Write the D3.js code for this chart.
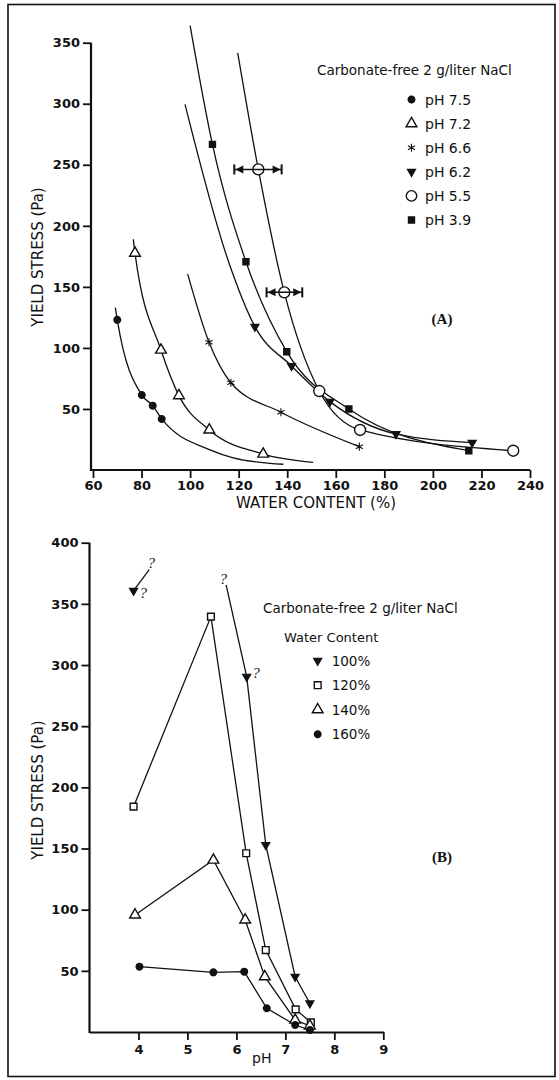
<!DOCTYPE html>
<html>
<head>
<meta charset="utf-8">
<script src="https://cdn.jsdelivr.net/npm/d3@7"></script>
<style>
body { margin: 0; background: #fff; }
text { font-family: "DejaVu Sans", sans-serif; fill: #111; }
.axis path, .axis line { stroke: #111; }
.axis path { stroke-width: 2.2; }
.axis line { stroke-width: 1.8; }
.axis text { font-size: 13px; font-weight: bold; }
.curve { fill: none; stroke: #111; stroke-width: 1.3; }
</style>
</head>
<body>
<svg id="chart" width="559" height="1080"></svg>
<script>
// ---------- panel A : yield stress vs water content ----------
let phLabels = ["pH 7.5", "pH 7.2", "pH 6.6", "pH 6.2", "pH 5.5", "pH 3.9"];
let phSymbols = ["dot", "tri", "star", "tridown", "ring", "sq"];

// measured points [water content %, yield stress Pa]
let pts75 = [[70.0, 123], [80.1, 61.4], [84.6, 52.7], [88.3, 41.8]];
let pts72 = [[77.3, 177.6], [88.0, 98.3], [95.4, 60.9], [107.9, 32.8], [130.1, 13.1]];
let pts66 = [[107.8, 104.6], [116.8, 71.5], [137.4, 47.3], [169.7, 19.1]];
let pts62 = [[126.7, 117.4], [141.8, 85.2], [157.6, 56], [184.8, 29.5], [216.2, 22.4]];
let pts55 = [[128.1, 246.2], [138.8, 145.5], [153.2, 64.7], [170.0, 32.8], [233.1, 15.8]];
let pts39 = [[109.2, 266.7], [123.0, 170.6], [139.8, 96.9], [165.4, 50], [214.8, 15.8]];

// extra points (ends and bends)
let fit75 = [[69.2, 133], [108.2, 16.5], [117.8, 10], [138.4, 4.7]];
let fit72 = [[76.6, 189], [150.7, 6.3]];
let fit66 = [[99.0, 160.5]];
let fit62 = [[97.9, 299.5], [115.6, 172]];
let fit55 = [[119.6, 341.7]];
let fit39 = [[100.0, 364]];

// horizontal error bars [x, y, low, high]
let errA = [[128.1, 246.2, 118.2, 137.7], [138.8, 145.5, 131.5, 146.2]];

let xTicksA = [60, 80, 100, 120, 140, 160, 180, 200, 220, 240];
let yTicksA = [50, 100, 150, 200, 250, 300, 350];

// ---------- panel B : yield stress vs pH ----------
let wcLabels = ["100%", "120%", "140%", "160%"];
let wcSymbols = ["tridown", "box", "tri", "dot"];

// [pH, yield stress Pa]
let wc100 = [[6.21, 290.5], [6.6, 152.9], [7.2, 45.2], [7.5, 23.5]];
let wc100Lead = [[5.79, 365.5]];
let wc100Low = [[3.9, 360.8]];
let wc100LowTail = [[4.22, 378]];
let wc120 = [[3.9, 184.2], [5.48, 339.6], [6.2, 146.1], [6.6, 67], [7.21, 18.5], [7.52, 7.9]];
let wc140 = [[3.93, 95.7], [5.53, 140.6], [6.18, 91.6], [6.58, 45.2], [7.2, 9.8], [7.5, 5]];
let wc160 = [[4.02, 53.4], [5.53, 48.8], [6.16, 49.3], [6.62, 19.4], [7.2, 5.7], [7.5, 1.6]];

// question marks on uncertain 100% values
let qMarks = [[4.26, 383.7], [4.1, 359.2], [5.73, 370.6], [6.4, 293.8]];

let xTicksB = [4, 5, 6, 7, 8, 9];
let yTicksB = [50, 100, 150, 200, 250, 300, 350, 400];

let svg = d3.select("#chart");

svg
	.append("rect")
	.attr("x", 8)
	.attr("y", 4.5)
	.attr("width", 547)
	.attr("height", 1072)
	.attr("fill", "none")
	.attr("stroke", "#111")
	.attr("stroke-width", 1.6);

function mark(g, type, cx, cy, s) {
	s = s || 1;
	if (type === "ring") {
		return g
			.append("circle")
			.attr("cx", cx)
			.attr("cy", cy)
			.attr("r", 5.5 * s)
			.attr("fill", "#fff")
			.attr("stroke", "#111")
			.attr("stroke-width", 1.4);
	}
	let shapes = {
		dot: [d3.symbolCircle, 34, "#111"],
		tri: [d3.symbolTriangle, 50, "#fff"],
		tridown: [d3.symbolTriangle, 26, "#111"],
		sq: [d3.symbolSquare, 36, "#111"],
		box: [d3.symbolSquare, 46, "#fff"],
		star: [d3.symbolAsterisk, 46, "none"],
	};
	let sh = shapes[type];
	return g
		.append("path")
		.attr("d", d3.symbol().type(sh[0]).size(sh[1] * s * s)())
		.attr(
			"transform",
			"translate(" + cx + "," + cy + ")" + (type === "tridown" ? " rotate(180)" : "")
		)
		.attr("fill", sh[2])
		.attr("stroke", "#111")
		.attr("stroke-width", type === "star" ? 1.1 : 1.4);
}

// ================= panel A =================
let xA = d3.scaleLinear().domain([60, 240]).range([93, 530]);
let yA = d3.scaleLinear().domain([0, 350]).range([470, 42.7]);
let gA = svg.append("g");

gA.append("g")
	.attr("class", "axis")
	.attr("transform", "translate(0,470)")
	.call(d3.axisBottom(xA).tickValues(xTicksA).tickSize(8).tickPadding(3).tickSizeOuter(0))
	.select(".domain")
	.attr("d", "M90,0H530");

gA.append("g")
	.attr("class", "axis")
	.attr("transform", "translate(91,0)")
	.call(d3.axisLeft(yA).tickValues(yTicksA).tickSize(8).tickPadding(3).tickSizeOuter(0))
	.select(".domain")
	.attr("d", "M0,471V42.7");

gA.append("text")
	.attr("transform", "translate(43,257) rotate(-90)")
	.attr("text-anchor", "middle")
	.style("font-size", "15px")
	.text("YIELD STRESS (Pa)");

gA.append("text")
	.attr("x", 316)
	.attr("y", 508)
	.attr("text-anchor", "middle")
	.style("font-size", "15px")
	.text("WATER CONTENT (%)");

let seriesA = [
	{ pts: pts75, fit: fit75 },
	{ pts: pts72, fit: fit72 },
	{ pts: pts66, fit: fit66 },
	{ pts: pts62, fit: fit62 },
	{ pts: pts55, fit: fit55 },
	{ pts: pts39, fit: fit39 },
];

let lineA = d3
	.line()
	.x((d) => xA(d[0]))
	.y((d) => yA(d[1]))
	.curve(d3.curveMonotoneX);

seriesA.forEach((s) => {
	let all = s.pts.concat(s.fit).sort((a, b) => a[0] - b[0]);
	gA.append("path").attr("class", "curve").attr("d", lineA(all));
});

seriesA.forEach((s, i) => {
	s.pts.forEach((p) => mark(gA, phSymbols[i], xA(p[0]), yA(p[1])));
});

// error bars with arrow heads
errA.forEach((e) => {
	let cy = yA(e[1]),
		lo = xA(e[2]),
		hi = xA(e[3]);
	gA.append("line")
		.attr("x1", lo)
		.attr("x2", hi)
		.attr("y1", cy)
		.attr("y2", cy)
		.attr("stroke", "#111")
		.attr("stroke-width", 1.5);
	[lo, hi].forEach((xe, k) => {
		let dir = k === 0 ? 1 : -1;
		gA.append("line")
			.attr("x1", xe)
			.attr("x2", xe)
			.attr("y1", cy - 5)
			.attr("y2", cy + 5)
			.attr("stroke", "#111")
			.attr("stroke-width", 2);
		gA.append("path")
			.attr(
				"d",
				"M" + (xe + dir) + "," + cy + "L" + (xe + dir * 9) + "," + (cy - 4) + "L" + (xe + dir * 9) + "," + (cy + 4) + "Z"
			)
			.attr("fill", "#111");
	});
});

// legend A
gA.append("text")
	.attr("x", 317)
	.attr("y", 75)
	.style("font-size", "13.5px")
	.text("Carbonate-free 2 g/liter NaCl");

phLabels.forEach((lab, i) => {
	let cy = 99.5 + i * 24.1;
	mark(gA, phSymbols[i], 411.5, cy, phSymbols[i] === "ring" ? 0.95 : 1);
	gA.append("text")
		.attr("x", 425)
		.attr("y", cy + 5)
		.style("font-size", "14px")
		.text(lab);
});

gA.append("text")
	.attr("x", 442)
	.attr("y", 324)
	.attr("text-anchor", "middle")
	.style("font-family", "'Liberation Serif', serif")
	.style("font-weight", "bold")
	.style("font-size", "15px")
	.text("(A)");

// ================= panel B =================
let xB = d3.scaleLinear().domain([3, 9]).range([89.5, 383.3]);
let yB = d3.scaleLinear().domain([0, 400]).range([1032, 542.7]);
let gB = svg.append("g");

gB.append("g")
	.attr("class", "axis")
	.attr("transform", "translate(0,1032)")
	.call(
		d3
			.axisBottom(xB)
			.tickValues(xTicksB)
			.tickFormat(d3.format("d"))
			.tickSize(8)
			.tickPadding(5)
			.tickSizeOuter(0)
	);

gB.append("g")
	.attr("class", "axis")
	.attr("transform", "translate(89.5,0)")
	.call(d3.axisLeft(yB).tickValues(yTicksB).tickSize(8).tickPadding(3).tickSizeOuter(0))
	.select(".domain")
	.attr("d", "M0,1033V542.7");

gB.append("text")
	.attr("transform", "translate(43,790) rotate(-90)")
	.attr("text-anchor", "middle")
	.style("font-size", "15px")
	.text("YIELD STRESS (Pa)");

gB.append("text")
	.attr("x", 252)
	.attr("y", 1063)
	.style("font-size", "14px")
	.text("pH");

let lineB = d3
	.line()
	.x((d) => xB(d[0]))
	.y((d) => yB(d[1]));

[wc100Lead.concat(wc100), wc100Low.concat(wc100LowTail), wc120, wc140, wc160].forEach((s) => {
	gB.append("path").attr("class", "curve").attr("d", lineB(s));
});

let seriesB = [wc100.concat(wc100Low), wc120, wc140, wc160];
seriesB.forEach((s, i) => {
	s.forEach((p) => mark(gB, wcSymbols[i], xB(p[0]), yB(p[1])));
});

qMarks.forEach((q) => {
	gB.append("text")
		.attr("x", xB(q[0]))
		.attr("y", yB(q[1]) + 5)
		.attr("text-anchor", "middle")
		.style("font-family", "'Liberation Serif', serif")
		.style("font-style", "italic")
		.style("font-size", "15px")
		.text("?");
});

// legend B
gB.append("text")
	.attr("x", 263)
	.attr("y", 613)
	.style("font-size", "13.5px")
	.text("Carbonate-free 2 g/liter NaCl");

gB.append("text")
	.attr("x", 284)
	.attr("y", 641.5)
	.style("font-size", "13px")
	.text("Water Content");

wcLabels.forEach((lab, i) => {
	let cy = 660.7 + i * 24.5;
	mark(gB, wcSymbols[i], 317.7, cy);
	gB.append("text")
		.attr("x", 331.7)
		.attr("y", cy + 5)
		.style("font-size", "13.5px")
		.text(lab);
});

gB.append("text")
	.attr("x", 442)
	.attr("y", 862)
	.attr("text-anchor", "middle")
	.style("font-family", "'Liberation Serif', serif")
	.style("font-weight", "bold")
	.style("font-size", "15px")
	.text("(B)");
</script>
</body>
</html>
